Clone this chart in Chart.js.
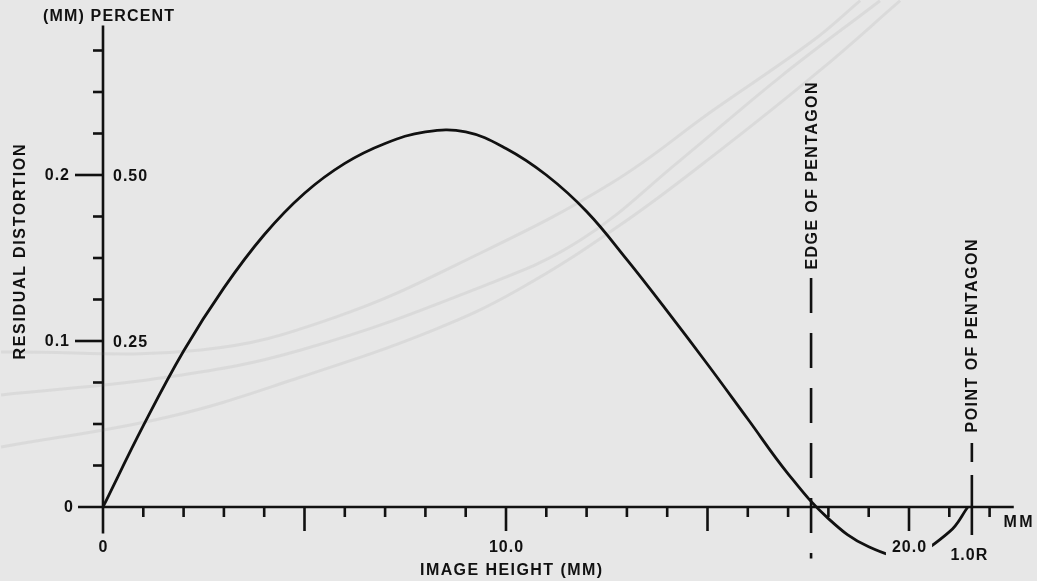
<!DOCTYPE html>
<html>
<head>
<meta charset="utf-8">
<script src="https://cdn.jsdelivr.net/npm/chart.js@4/dist/chart.umd.min.js"></script>
<style>
  html, body { margin: 0; padding: 0; background: #e7e7e7; }
  #wrap { width: 1037px; height: 581px; position: relative; }
</style>
</head>
<body>
<div id="wrap"><canvas id="c" width="1037" height="581"></canvas></div>
<script>
// ---- data ----
const imageHeightMM = [0, 1, 2, 3, 4, 5, 6, 7, 8, 9, 10, 11, 12, 13, 14, 15, 16, 17, 18, 19, 20, 21, 21.46];
const residualDistortionMM = [0, 0.049, 0.094, 0.132, 0.164, 0.189, 0.207, 0.219, 0.226, 0.226, 0.216, 0.200, 0.178, 0.149, 0.118, 0.086, 0.053, 0.020, -0.007, -0.024, -0.029, -0.015, 0];

// faint show-through curves from the reverse side of the page
const ghost1X = [-2.53, 2.43, 5.72, 9.37, 12.66, 15.14, 17.62, 18.79];
const ghost1Y = [0.0934, 0.0946, 0.1139, 0.153, 0.1958, 0.239, 0.281, 0.305];
const ghost2X = [-2.53, 1.61, 4.91, 9.37, 11.85, 14.33, 16.80, 19.28];
const ghost2Y = [0.0675, 0.0783, 0.0946, 0.1325, 0.1608, 0.209, 0.259, 0.305];
const ghost3X = [-2.53, 1.61, 4.91, 8.20, 10.29, 12.84, 15.32, 17.79, 19.78];
const ghost3Y = [0.0361, 0.0542, 0.0783, 0.1066, 0.1307, 0.170, 0.215, 0.263, 0.305];

const edgeOfPentagonMM = 17.57;
const pointOfPentagonMM = 21.56;

const xTickValues = [0,1,2,3,4,5,6,7,8,9,10,11,12,13,14,15,16,17,18,19,20,21,22];
const xMajorTicks = [0, 5, 10, 15, 20];
const xTickLabels = [{v: 0, t: '0'}, {v: 10, t: '10.0'}, {v: 20, t: '20.0'}];
const yTickValues = [0.025, 0.05, 0.075, 0.1, 0.125, 0.15, 0.175, 0.2, 0.225, 0.25, 0.275];
const yMajorTicks = [0.1, 0.2];
const yTickLabelsMM = [{v: 0, t: '0'}, {v: 0.1, t: '0.1'}, {v: 0.2, t: '0.2'}];
const yTickLabelsPercent = [{v: 0.1, t: '0.25'}, {v: 0.2, t: '0.50'}];

const xAxisTitle = 'IMAGE HEIGHT (MM)';
const yAxisTitle = 'RESIDUAL DISTORTION';
const yUnitsTitle = '(MM) PERCENT';
const xUnitLabel = 'MM';
const radiusLabel = '1.0R';
const edgeLabel = 'EDGE OF PENTAGON';
const pointLabel = 'POINT OF PENTAGON';

// ---- styles ----
const PAPER = '#e7e7e7';
const INK = '#111111';
const FONT = 'bold 16px "Liberation Sans"';

const toPts = (xs, ys) => xs.map((x, i) => ({x: x, y: ys[i]}));

function drawSpacedText(ctx, text, x, y, opts) {
  ctx.save();
  ctx.font = opts.font || FONT;
  ctx.fillStyle = INK;
  ctx.textBaseline = 'middle';
  ctx.translate(x, y);
  if (opts.rotate) ctx.rotate(opts.rotate);
  let ls = opts.spacing || 0;
  if (opts.width) {
    ctx.letterSpacing = '0px';
    const w = ctx.measureText(text).width;
    ls = Math.max(0, (opts.width - w) / (text.length - 1));
  }
  ctx.letterSpacing = ls + 'px';
  const w2 = ctx.measureText(text).width - ls;
  let sx = 0;
  if (opts.align === 'center') sx = -w2 / 2;
  else if (opts.align === 'right') sx = -w2;
  ctx.textAlign = 'left';
  if (opts.bg) {
    ctx.fillStyle = PAPER;
    ctx.fillRect(sx - opts.bg, -11, w2 + 2 * opts.bg, 25);
    ctx.fillStyle = INK;
  }
  ctx.fillText(text, sx, 1);
  ctx.restore();
}

const paperPlugin = {
  id: 'paper',
  beforeDraw(chart) {
    const ctx = chart.ctx;
    ctx.save();
    ctx.fillStyle = PAPER;
    ctx.fillRect(0, 0, chart.width, chart.height);
    ctx.restore();
  }
};

const axesPlugin = {
  id: 'axes',
  beforeDatasetsDraw(chart) {
    const ctx = chart.ctx;
    const xs = chart.scales.x, ys = chart.scales.y;
    const x0 = xs.getPixelForValue(0), y0 = ys.getPixelForValue(0);
    ctx.save();
    ctx.strokeStyle = INK;
    ctx.lineWidth = 2.6;
    ctx.lineCap = 'butt';
    // x axis
    ctx.beginPath();
    ctx.moveTo(xs.getPixelForValue(-0.62), y0);
    ctx.lineTo(xs.getPixelForValue(22.6), y0);
    ctx.stroke();
    // y axis
    ctx.beginPath();
    ctx.moveTo(x0, ys.getPixelForValue(-0.016));
    ctx.lineTo(x0, ys.getPixelForValue(0.29));
    ctx.stroke();
    // x ticks
    xTickValues.forEach(v => {
      if (v === 0) return;
      const px = xs.getPixelForValue(v);
      const len = xMajorTicks.includes(v) ? 24 : 10;
      ctx.beginPath();
      ctx.moveTo(px, y0);
      ctx.lineTo(px, y0 + len);
      ctx.stroke();
    });
    // y ticks
    yTickValues.forEach(v => {
      const py = ys.getPixelForValue(v);
      const len = yMajorTicks.includes(v) ? 28 : 10;
      ctx.beginPath();
      ctx.moveTo(x0, py);
      ctx.lineTo(x0 - len, py);
      ctx.stroke();
    });
    ctx.restore();
  },
  afterDatasetsDraw(chart) {
    const ctx = chart.ctx;
    const xs = chart.scales.x, ys = chart.scales.y;
    const x0 = xs.getPixelForValue(0), y0 = ys.getPixelForValue(0);
    // y tick labels (mm, left side)
    yTickLabelsMM.forEach(o => {
      const py = ys.getPixelForValue(o.v);
      drawSpacedText(ctx, o.t, x0 - (o.v === 0 ? 30 : 34), py, {align: 'right', spacing: 1});
    });
    // y tick labels (percent, right side)
    yTickLabelsPercent.forEach(o => {
      const py = ys.getPixelForValue(o.v);
      drawSpacedText(ctx, o.t, x0 + 10, py + 1, {align: 'left', spacing: 1});
    });
    // x tick labels
    xTickLabels.forEach(o => {
      const px = xs.getPixelForValue(o.v);
      drawSpacedText(ctx, o.t, px, y0 + 40, {align: 'center', spacing: 1, bg: o.v === 20 ? 6 : 0});
    });
    drawSpacedText(ctx, radiusLabel, xs.getPixelForValue(pointOfPentagonMM) - 3, y0 + 48, {align: 'center', spacing: 1});
    drawSpacedText(ctx, xUnitLabel, 1018, y0 + 15, {align: 'center', width: 29});
    // titles
    drawSpacedText(ctx, xAxisTitle, 511, 570, {align: 'center', width: 182});
    drawSpacedText(ctx, yUnitsTitle, 43, 16, {align: 'left', width: 131});
    drawSpacedText(ctx, yAxisTitle, 20, 252, {align: 'center', width: 215, rotate: -Math.PI / 2});
    drawSpacedText(ctx, edgeLabel, xs.getPixelForValue(edgeOfPentagonMM) + 1, 176, {align: 'center', width: 187, rotate: -Math.PI / 2});
    drawSpacedText(ctx, pointLabel, xs.getPixelForValue(pointOfPentagonMM), 336, {align: 'center', width: 193, rotate: -Math.PI / 2});
  }
};

const ghostStyle = {
  borderColor: 'rgba(120,120,120,0.11)',
  borderWidth: 3,
  pointRadius: 0,
  showLine: true,
  tension: 0.4,
  fill: false
};

new Chart(document.getElementById('c'), {
  type: 'scatter',
  data: {
    datasets: [
      {
        label: 'Residual distortion',
        data: toPts(imageHeightMM, residualDistortionMM),
        borderColor: INK,
        borderWidth: 2.8,
        pointRadius: 0,
        showLine: true,
        tension: 0.4,
        fill: false
      },
      {
        label: 'Edge of pentagon',
        data: [{x: edgeOfPentagonMM, y: 0.138}, {x: edgeOfPentagonMM, y: -0.031}],
        borderColor: INK,
        borderWidth: 2.6,
        borderDash: [35, 20],
        pointRadius: 0,
        showLine: true
      },
      {
        label: 'Point of pentagon',
        data: [{x: pointOfPentagonMM, y: 0.0385}, {x: pointOfPentagonMM, y: -0.019}],
        borderColor: INK,
        borderWidth: 2.6,
        borderDash: [19, 13, 60, 1000],
        pointRadius: 0,
        showLine: true
      },
      Object.assign({label: 'ghost 1', data: toPts(ghost1X, ghost1Y)}, ghostStyle),
      Object.assign({label: 'ghost 2', data: toPts(ghost2X, ghost2Y)}, ghostStyle),
      Object.assign({label: 'ghost 3', data: toPts(ghost3X, ghost3Y)}, ghostStyle)
    ]
  },
  options: {
    responsive: false,
    animation: false,
    devicePixelRatio: 1,
    layout: {padding: 0},
    plugins: {legend: {display: false}, tooltip: {enabled: false}, title: {display: false}},
    scales: {
      x: {type: 'linear', display: false, min: -103 / 40.3, max: (1037 - 103) / 40.3},
      y: {type: 'linear', display: false, min: (507 - 581) / 1660, max: 507 / 1660}
    }
  },
  plugins: [paperPlugin, axesPlugin]
});
</script>
</body>
</html>
